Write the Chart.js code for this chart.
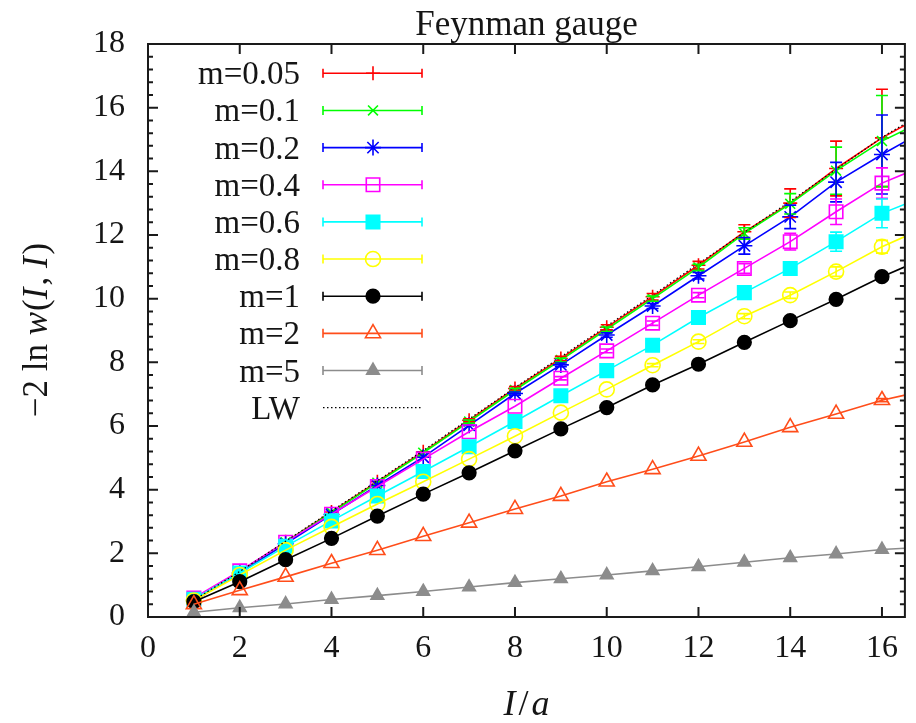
<!DOCTYPE html>
<html><head><meta charset="utf-8">
<script src="https://cdn.jsdelivr.net/npm/chart.js@4"></script>
<style>html,body{margin:0;padding:0;background:#fff;}#wrap{width:916px;height:723px;position:relative;}</style>
</head><body><div id="wrap"><canvas id="c" width="916" height="723"></canvas></div>
<script>
// ---------- data ----------
const xValues = [1,2,3,4,5,6,7,8,9,10,11,12,13,14,15,16];
const xLineEnd = 16.5;
const xTickValues = [0,2,4,6,8,10,12,14,16];
const yTickValues = [0,2,4,6,8,10,12,14,16,18];
const chartTitle = 'Feynman gauge';
const seriesLabels = ['m=0.05','m=0.1','m=0.2','m=0.4','m=0.6','m=0.8','m=1','m=2','m=5'];
const lwLabel = 'LW';

const m005 = [0.52,1.42,2.36,3.30,4.25,5.19,6.18,7.18,8.12,9.10,10.06,11.05,12.10,13.00,14.09,15.05];
const m01  = [0.52,1.41,2.35,3.28,4.22,5.16,6.14,7.13,8.07,9.04,10.00,10.98,12.05,12.98,14.02,14.95];
const m02  = [0.51,1.38,2.30,3.22,4.13,5.02,6.02,7.02,7.92,8.86,9.77,10.72,11.66,12.57,13.66,14.53];
const m04  = [0.60,1.45,2.35,3.23,4.10,4.96,5.82,6.62,7.50,8.36,9.23,10.11,10.95,11.79,12.73,13.63];
const m06  = [0.56,1.38,2.22,3.02,3.80,4.57,5.35,6.14,6.95,7.74,8.54,9.41,10.19,10.95,11.79,12.68];
const m08  = [0.52,1.32,2.10,2.83,3.55,4.25,4.96,5.68,6.42,7.15,7.91,8.65,9.45,10.11,10.85,11.63];
const m1   = [0.48,1.11,1.80,2.47,3.17,3.86,4.53,5.22,5.91,6.58,7.29,7.94,8.63,9.31,9.98,10.69];
const m2   = [0.40,0.84,1.26,1.69,2.10,2.54,2.96,3.39,3.80,4.25,4.64,5.06,5.50,5.96,6.38,6.81];
const m5   = [0.15,0.29,0.41,0.55,0.67,0.80,0.94,1.08,1.20,1.32,1.45,1.58,1.72,1.86,1.98,2.12];
const lineEndValues = [15.45,15.30,14.93,13.93,12.97,11.95,11.00,6.97,2.16];

const err005 = [0.02,0.02,0.02,0.03,0.03,0.04,0.05,0.06,0.07,0.08,0.10,0.12,0.22,0.45,0.86,1.53];
const err01  = [0.02,0.02,0.02,0.03,0.03,0.04,0.05,0.05,0.06,0.07,0.08,0.10,0.18,0.32,0.74,1.43];
const err02  = [0.02,0.02,0.02,0.02,0.03,0.03,0.04,0.05,0.06,0.07,0.08,0.10,0.26,0.37,0.62,1.24];
const err04  = [0.01,0.01,0.02,0.02,0.02,0.03,0.03,0.04,0.05,0.06,0.07,0.08,0.15,0.26,0.40,0.48];
const err06  = [0.01,0.01,0.01,0.02,0.02,0.02,0.03,0.03,0.04,0.05,0.06,0.07,0.10,0.15,0.30,0.45];
const err08  = [0.01,0.01,0.01,0.01,0.02,0.02,0.02,0.03,0.03,0.04,0.05,0.06,0.08,0.10,0.15,0.20];
const err1   = [0.01,0.01,0.01,0.01,0.01,0.02,0.02,0.02,0.03,0.03,0.03,0.04,0.05,0.06,0.08,0.10];
const err2   = [0.01,0.01,0.01,0.01,0.01,0.01,0.01,0.02,0.02,0.02,0.02,0.03,0.03,0.03,0.04,0.05];
const err5   = [0.01,0.01,0.01,0.01,0.01,0.01,0.01,0.01,0.01,0.01,0.01,0.01,0.02,0.02,0.02,0.02];

const lwValues = [0.53,1.43,2.38,3.33,4.28,5.23,6.22,7.21,8.17,9.14,10.11,11.10,12.08,13.06,14.06,15.07];
const lwEnd = 15.50;

// ---------- styles ----------
const seriesValues = [m005,m01,m02,m04,m06,m08,m1,m2,m5];
const seriesErrors = [err005,err01,err02,err04,err06,err08,err1,err2,err5];
const colors = ['#ff0000','#00ff00','#0000ff','#ff00ff','#00ffff','#ffff00','#000000','#ff4d1a','#8c8c8c'];
const pStyles = ['cross','crossRot','star','rect','rect','circle','circle','triangle','triangle'];
const pFilled = [false,false,false,false,true,false,true,false,true];
const pRadius = [7,7,8,9.5,9.5,7.5,6.8,8.7,7.3];
const FONT = 'Liberation Serif';
const TXT = '#151515';

const datasets = seriesValues.map((vals, k) => ({
  label: seriesLabels[k],
  data: xValues.map((x, i) => ({x: x, y: vals[i]})).concat([{x: xLineEnd, y: lineEndValues[k]}]),
  borderColor: colors[k],
  backgroundColor: colors[k],
  borderWidth: 1.6,
  pointStyle: pStyles[k],
  pointRadius: ctx => ctx.dataIndex < xValues.length ? pRadius[k] : 0,
  pointBorderColor: colors[k],
  pointBackgroundColor: pFilled[k] ? colors[k] : 'rgba(0,0,0,0)',
  pointBorderWidth: 1.6,
  pointHoverRadius: 0,
  tension: 0, fill: false,
  errors: seriesErrors[k],
  order: 10 - k
}));
datasets.push({
  label: lwLabel,
  data: xValues.map((x, i) => ({x: x, y: lwValues[i]})).concat([{x: xLineEnd, y: lwEnd}]),
  borderColor: '#000', borderWidth: 1.2, borderDash: [1.5, 2.5],
  pointRadius: 0, tension: 0, fill: false, order: 1
});

// ---------- plugins ----------
const errorBars = {
  id: 'errorBars',
  afterDatasetsDraw(chart) {
    const ctx = chart.ctx, xs = chart.scales.x, ys = chart.scales.y;
    chart.data.datasets.forEach((ds, k) => {
      if (!ds.errors) return;
      ctx.save();
      ctx.strokeStyle = ds.borderColor; ctx.lineWidth = 1.6;
      xValues.forEach((x, i) => {
        const e = ds.errors[i]; const v = seriesValues[k][i];
        const px = xs.getPixelForValue(x);
        const y1 = ys.getPixelForValue(v + e), y2 = ys.getPixelForValue(v - e);
        if (y2 - y1 < 3) return;
        ctx.beginPath();
        ctx.moveTo(px, y1); ctx.lineTo(px, y2);
        ctx.moveTo(px - 6, y1); ctx.lineTo(px + 6, y1);
        ctx.moveTo(px - 6, y2); ctx.lineTo(px + 6, y2);
        ctx.stroke();
      });
      ctx.restore();
    });
  }
};

function drawSegs(ctx, segs, size, cx, baseY) {
  let total = 0;
  const widths = segs.map(s => { ctx.font = (s[1] ? 'italic ' : '') + size + 'px "' + FONT + '"'; const w = ctx.measureText(s[0]).width + (s[2] || 0); total += w; return w; });
  let x = cx - total / 2;
  segs.forEach((s, i) => {
    ctx.font = (s[1] ? 'italic ' : '') + size + 'px "' + FONT + '"';
    ctx.fillText(s[0], x, baseY);
    x += widths[i];
  });
}

const decor = {
  id: 'decor',
  afterDraw(chart) {
    const ctx = chart.ctx, a = chart.chartArea, xs = chart.scales.x, ys = chart.scales.y;
    ctx.save();
    // frame
    ctx.strokeStyle = '#1a1a1a'; ctx.lineWidth = 2;
    ctx.strokeRect(a.left, a.top, a.right - a.left, a.bottom - a.top);
    ctx.lineWidth = 2;
    ctx.beginPath();
    xTickValues.forEach(v => {
      const p = xs.getPixelForValue(v);
      ctx.moveTo(p, a.bottom); ctx.lineTo(p, a.bottom - 10);
      ctx.moveTo(p, a.top); ctx.lineTo(p, a.top + 10);
    });
    yTickValues.forEach(v => {
      const p = ys.getPixelForValue(v);
      ctx.moveTo(a.left, p); ctx.lineTo(a.left + 10, p);
      ctx.moveTo(a.right, p); ctx.lineTo(a.right - 10, p);
    });
    for (let j = 1; j < 45; j++) {
      if (j % 5 === 0) continue;
      const p = ys.getPixelForValue(j * 0.4);
      ctx.moveTo(a.left, p); ctx.lineTo(a.left + 5, p);
      ctx.moveTo(a.right, p); ctx.lineTo(a.right - 5, p);
    }
    ctx.stroke();

    // title
    ctx.fillStyle = TXT; ctx.textAlign = 'left'; ctx.textBaseline = 'alphabetic';
    drawSegs(ctx, [[chartTitle, false]], 35, (a.left + a.right) / 2, 35);
    // x title
    drawSegs(ctx, [['I', true, 3], ['/', false, 3], ['a', true]], 36, (a.left + a.right) / 2, 715);
    // y title
    ctx.save();
    ctx.translate(47, 330); ctx.rotate(-Math.PI / 2);
    drawSegs(ctx, [['\u22122 ln ', false], ['w', true, 1], ['(', false], ['I', true, 2], [', ', false], ['I', true, 2], [')', false]], 35, 0, 0);
    ctx.restore();

    // legend
    const rowY0 = 73.3, rowH = 37.15, textRight = 300, s0 = 323, s1 = 422, sm = 373;
    const labels = seriesLabels.concat([lwLabel]);
    labels.forEach((lab, k) => {
      const y = rowY0 + k * rowH;
      ctx.fillStyle = TXT; ctx.textAlign = 'right'; ctx.textBaseline = 'alphabetic';
      ctx.font = '33px "' + FONT + '"';
      ctx.fillText(lab, textRight, y + 11);
      ctx.textAlign = 'left';
      if (k < seriesLabels.length) {
        ctx.strokeStyle = colors[k]; ctx.lineWidth = 1.6; ctx.setLineDash([]);
        ctx.beginPath();
        ctx.moveTo(s0, y); ctx.lineTo(s1, y);
        ctx.moveTo(s0, y - 4.5); ctx.lineTo(s0, y + 4.5);
        ctx.moveTo(s1, y - 4.5); ctx.lineTo(s1, y + 4.5);
        ctx.stroke();
        ctx.fillStyle = pFilled[k] ? colors[k] : 'rgba(0,0,0,0)';
        Chart.helpers.drawPoint(ctx, {pointStyle: pStyles[k], radius: pRadius[k], borderWidth: 1.6, rotation: 0}, sm, y);
      } else {
        ctx.strokeStyle = '#000'; ctx.lineWidth = 1.2; ctx.setLineDash([1.5, 2.5]);
        ctx.beginPath(); ctx.moveTo(s0, y); ctx.lineTo(s1, y); ctx.stroke();
        ctx.setLineDash([]);
      }
    });
    ctx.restore();
  }
};

new Chart(document.getElementById('c'), {
  type: 'line',
  data: { datasets: datasets },
  options: {
    responsive: false, animation: false, devicePixelRatio: 1,
    layout: { padding: { left: 0, top: 44, right: 11, bottom: 0 } },
    plugins: { legend: { display: false }, title: { display: false }, tooltip: { enabled: false } },
    events: [],
    scales: {
      x: {
        type: 'linear', min: 0, max: 16.5,
        afterBuildTicks: s => { s.ticks = xTickValues.map(v => ({ value: v })); },
        afterFit: s => { s.height = 106; },
        grid: { display: false, drawTicks: false },
        border: { display: false },
        ticks: { font: { family: FONT, size: 32 }, color: TXT, padding: 12, maxRotation: 0, autoSkip: false, callback: v => String(v) }
      },
      y: {
        type: 'linear', min: 0, max: 18,
        afterBuildTicks: s => { s.ticks = yTickValues.map(v => ({ value: v })); },
        afterFit: s => { s.width = 148; },
        grid: { display: false, drawTicks: false },
        border: { display: false },
        ticks: { font: { family: FONT, size: 32 }, color: TXT, padding: 23, autoSkip: false, callback: v => String(v) }
      }
    }
  },
  plugins: [errorBars, decor]
});
</script></body></html>
